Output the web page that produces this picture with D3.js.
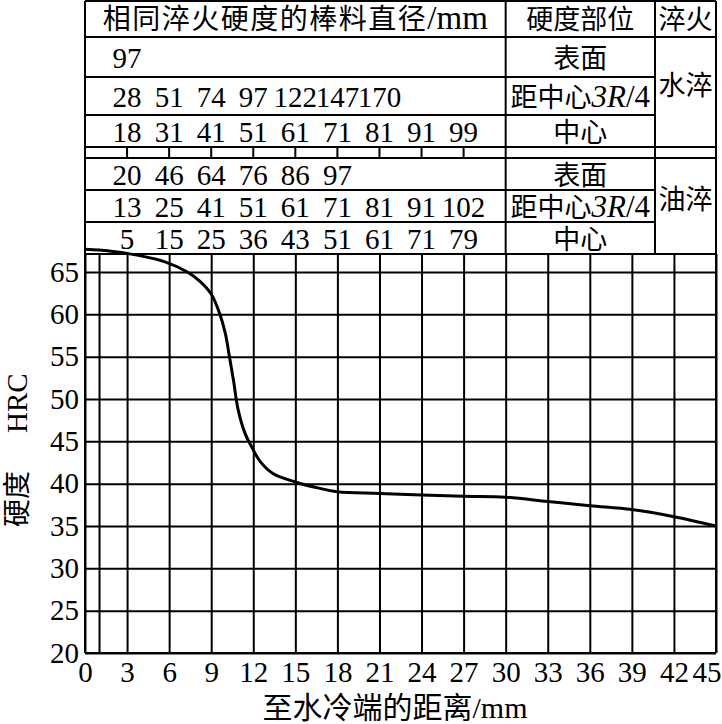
<!DOCTYPE html>
<html>
<head>
<meta charset="utf-8">
<script src="https://cdn.jsdelivr.net/npm/d3@7"></script>
<style>
  body { margin: 0; background: #fff; }
  svg { display: block; }
  text { fill: #000; font-family: 'Liberation Serif', 'Noto Sans CJK SC', serif; }
</style>
</head>
<body>
<svg id="chart" width="722" height="724"></svg>
<script>
// jominy curve
var distance = [0, 1, 3, 5.7, 7.3, 8.2, 9.0, 9.6, 10.0, 10.3, 10.6, 10.9, 11.4, 11.9, 12.5, 13.4, 15, 16.6, 18, 21, 24, 27, 30, 33, 36, 39, 42, 45];
var hardness = [67.7, 67.6, 67.2, 66.2, 65.0, 63.9, 62.4, 60.1, 57.8, 55.0, 52.1, 48.9, 46.0, 44.3, 42.6, 41.2, 40.2, 39.5, 39.05, 38.85, 38.65, 38.5, 38.4, 37.9, 37.4, 36.95, 36.1, 35.0];

var xTicks = [0, 3, 6, 9, 12, 15, 18, 21, 24, 27, 30, 33, 36, 39, 42, 45];
var xGridExtra = [1];
var yTicks = [20, 25, 30, 35, 40, 45, 50, 55, 60, 65];

// bar diameters with the same hardness (table above the plot)
var waterSurface = [97];
var waterQuarter = [28, 51, 74, 97, 122, 147, 170];
var waterCenter = [18, 31, 41, 51, 61, 71, 81, 91, 99];
var oilSurface = [20, 46, 64, 76, 86, 97];
var oilQuarter = [13, 25, 41, 51, 61, 71, 81, 91, 102];
var oilCenter = [5, 15, 25, 36, 43, 51, 61, 71, 79];

var headerLabels = ["相同淬火硬度的棒料直径", "硬度部位", "淬火"];
var positionLabels = ["表面", "距中心", "中心"];
var quenchLabels = ["水淬", "油淬"];

var svg = d3.select("#chart"),
  left = 85, right = 716,
  bottom = 653, plotTop = 254, tableTop = 1,
  rowY = [1, 37, 77, 115, 147, 158, 190, 222, 254],
  col3 = 655;

var x = d3.scaleLinear().domain([0, 45]).range([left, right]);
var y = d3.scaleLinear().domain([20, 65]).range([bottom, 272]);
var col2 = x(30);

var line = function(x1, y1, x2, y2) {
  svg.append("line")
    .attr("x1", x1).attr("y1", y1)
    .attr("x2", x2).attr("y2", y2)
    .attr("stroke", "#000")
    .attr("stroke-width", 2);
};

// grid
var gx = svg.append("g")
  .attr("transform", "translate(0," + bottom + ")")
  .call(d3.axisBottom(x)
    .tickValues(xTicks.concat(xGridExtra))
    .tickSize(-(bottom - plotTop))
    .tickFormat(""));
var gy = svg.append("g")
  .attr("transform", "translate(" + left + ",0)")
  .call(d3.axisLeft(y)
    .tickValues(yTicks)
    .tickSize(-(right - left))
    .tickFormat(""));
[gx, gy].forEach(function(g) {
  g.select(".domain").remove();
  g.selectAll(".tick line").attr("stroke", "#000").attr("stroke-width", 2);
});

// tick labels
var ax = svg.append("g")
  .attr("transform", "translate(0," + bottom + ")")
  .call(d3.axisBottom(x).tickValues(xTicks).tickSize(0).tickPadding(8));
var ay = svg.append("g")
  .attr("transform", "translate(" + left + ",0)")
  .call(d3.axisLeft(y).tickValues(yTicks).tickSize(0).tickPadding(6));
[ax, ay].forEach(function(g) {
  g.select(".domain").remove();
  g.selectAll("text")
    .attr("fill", "#000")
    .attr("font-family", "'Liberation Serif', serif")
    .style("font-family", "'Liberation Serif', serif")
    .style("font-size", "29px");
});
// keep the last label inside the frame
ax.selectAll(".tick text")
  .filter(d => d === 45)
  .attr("text-anchor", "end")
  .attr("x", 5);

// outer frame
line(left, tableTop, left, bottom);
line(right, tableTop, right, bottom);
line(left, bottom, right, bottom);

// table lines
rowY.forEach(function(ry, i) {
  var full = (i === 0 || i === 1 || i === 4 || i === 5 || i === 8);
  line(left, ry, full ? right : col3, ry);
});
line(col2, tableTop, col2, plotTop);
line(col3, tableTop, col3, plotTop);
xTicks.filter(function(d) { return d > 0 && d < 30; }).forEach(function(d) {
  line(x(d), rowY[4], x(d), rowY[5]);
});

// header row
var hy = (rowY[0] + rowY[1]) / 2 + 10;
var h1 = svg.append("text")
  .attr("x", (left + col2) / 2)
  .attr("y", hy)
  .attr("text-anchor", "middle")
  .style("font-size", "28px");
h1.append("tspan").style("letter-spacing", "1.5px").text(headerLabels[0]);
h1.append("tspan").style("font-size", "33px").text("/mm");
svg.append("text")
  .attr("x", (col2 + col3) / 2)
  .attr("y", hy)
  .attr("text-anchor", "middle")
  .style("font-size", "27px")
  .text(headerLabels[1]);
svg.append("text")
  .attr("x", (col3 + right) / 2)
  .attr("y", hy)
  .attr("text-anchor", "middle")
  .style("font-size", "27px")
  .text(headerLabels[2]);

// diameter rows
var numberRows = [
  { values: waterSurface, top: rowY[1], bot: rowY[2] },
  { values: waterQuarter, top: rowY[2], bot: rowY[3] },
  { values: waterCenter, top: rowY[3], bot: rowY[4] },
  { values: oilSurface, top: rowY[5], bot: rowY[6] },
  { values: oilQuarter, top: rowY[6], bot: rowY[7] },
  { values: oilCenter, top: rowY[7], bot: rowY[8] }
];
numberRows.forEach(function(r, k) {
  var cy = (r.top + r.bot) / 2 + 11;
  svg.append("g").selectAll("text")
    .data(r.values)
    .join("text")
      .attr("x", (d, i) => x(3 * (i + 1)))
      .attr("y", cy)
      .attr("text-anchor", "middle")
      .style("font-size", "29px")
      .text(d => d);

  var label = svg.append("text")
    .attr("x", (col2 + col3) / 2)
    .attr("y", cy)
    .attr("text-anchor", "middle")
    .style("font-size", "27px");
  var p = k % 3;
  label.append("tspan").text(positionLabels[p]);
  if (p === 1) {
    label.append("tspan").style("font-size", "31px").style("font-style", "italic").text("3R");
    label.append("tspan").style("font-size", "31px").text("/4");
  }
});

// quench labels
[[rowY[1], rowY[4]], [rowY[5], rowY[8]]].forEach(function(span, i) {
  svg.append("text")
    .attr("x", (col3 + right) / 2)
    .attr("y", (span[0] + span[1]) / 2 + 3)
    .attr("text-anchor", "middle")
    .style("font-size", "27px")
    .text(quenchLabels[i]);
});

// curve
var curve = d3.line()
  .x(d => x(d[0]))
  .y(d => y(d[1]))
  .curve(d3.curveCatmullRom.alpha(0.5));
svg.append("path")
  .attr("fill", "none")
  .attr("stroke", "#000")
  .attr("stroke-width", 3)
  .attr("stroke-linejoin", "round")
  .attr("d", curve(distance.map((d, i) => [d, hardness[i]])));

// axis titles
var xt = svg.append("text")
  .attr("x", 395)
  .attr("y", 718)
  .attr("text-anchor", "middle")
  .style("font-size", "30px");
xt.append("tspan").text("至水冷端的距离");
xt.append("tspan").style("font-size", "30px").text("/mm");

var yt = svg.append("text")
  .attr("transform", "translate(27,527) rotate(-90)")
  .attr("text-anchor", "start")
  .style("font-size", "28px");
yt.append("tspan").text("硬度");
yt.append("tspan").attr("dx", 38).style("font-size", "29px").text("HRC");
</script>
</body>
</html>
